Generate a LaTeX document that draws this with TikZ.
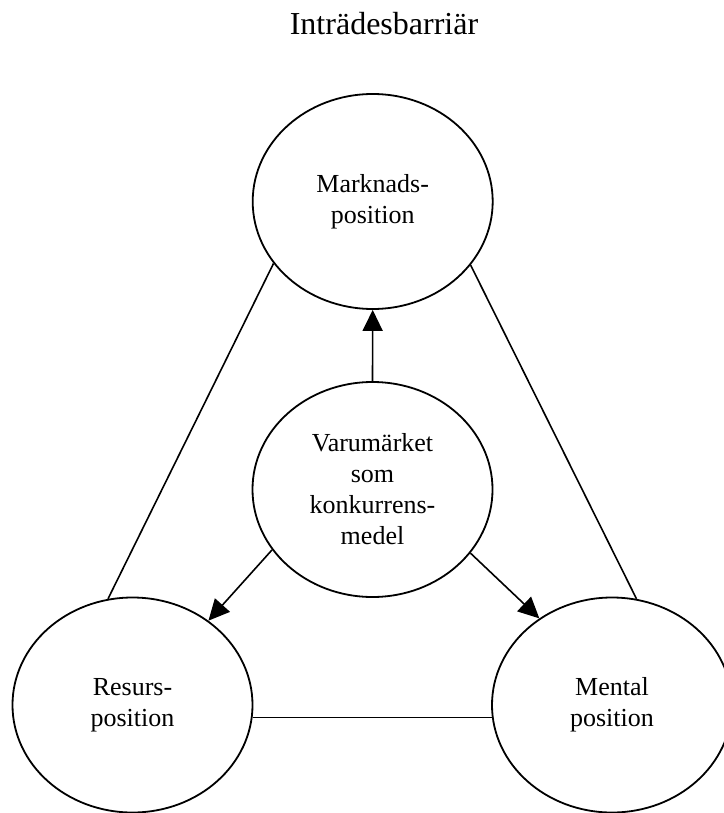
\documentclass[tikz,border=0pt]{standalone}
\usepackage{fontspec}
\setmainfont{Liberation Serif}
\usetikzlibrary{shapes.geometric,arrows.meta}
\begin{document}
\begin{tikzpicture}[x=0.5pt,y=-0.5pt,
  oval/.style={draw, ellipse, line width=0.9pt, minimum width=120pt,
    minimum height=107.5pt, inner sep=0pt, align=center,
    font=\fontsize{13}{15.5}\selectfont},
  link/.style={line width=0.8pt},
  push/.style={line width=0.8pt, -{Triangle[length=10.5pt,width=10pt]}}]
\useasboundingbox (0,0) rectangle (723,813);
% heading
\node[anchor=base, font=\fontsize{16}{19}\selectfont] (title) at (384,35) {Inträdesbarriär};
% the four positions
\node[oval] (mark) at (372.7,201.5) {Marknads-\\position};
\node[oval] (brand) at (372.5,489.5) {Varumärket\\som\\konkurrens-\\medel};
\node[oval] (res) at (132.5,705) {Resurs-\\position};
\node[oval] (ment) at (612,705) {Mental\\position};
% triangle of plain links
\draw[link] (mark.212) -- (res.103);
\draw[link] (mark.327.6) -- (ment.77);
\draw[link] (res.354.3) -- (res.354.3 -| ment.185.7);
% arrows out of the centre
\draw[push] (brand.90) -- (mark.270);
\draw[push] (brand.211.8) -- (res.48.3);
\draw[push] (brand.327.9) -- (ment.130.8);
\end{tikzpicture}
\end{document}
